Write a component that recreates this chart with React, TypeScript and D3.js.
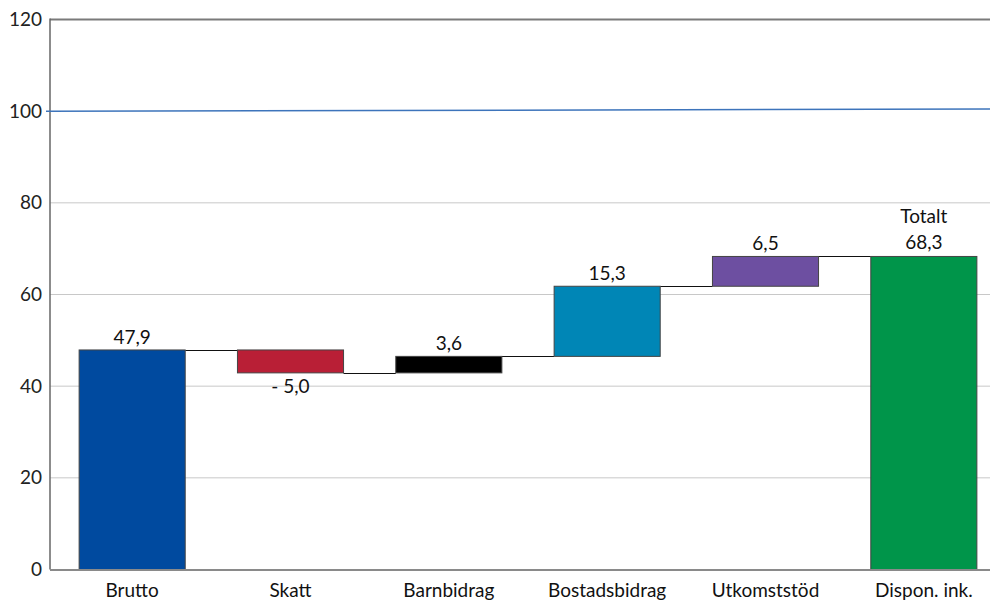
import React, { useEffect, useRef } from 'react';
import * as d3 from 'd3';

const categories = ['Brutto', 'Skatt', 'Barnbidrag', 'Bostadsbidrag', 'Utkomststöd', 'Dispon. ink.'];
const changes = [47.9, -5.0, 3.6, 15.3, 6.5];
const total = 68.3;
const barColors = ['#004a9f', '#b91f36', '#000000', '#0086b6', '#6d4fa1', '#00954a'];
const yTicks = [0, 20, 40, 60, 80, 100, 120];
// reference line at ~100 (drawn slightly rising in the original)
const refLine = [100, 100.45];

const W = 990;
const H = 602;

const fmt = (v: number) => (v < 0 ? '- ' : '') + Math.abs(v).toFixed(1).replace('.', ',');

export default function App() {
  const ref = useRef<SVGSVGElement>(null);

  useEffect(() => {
    document.body.style.margin = '0';
    const svg = d3.select(ref.current);
    svg.selectAll('*').remove();

    const font = 'Lato, "Open Sans", sans-serif';
    const fs = 19;
    const left = 50;
    const x = d3.scaleBand().domain(categories).range([53, 1003]).paddingInner(0.33).paddingOuter(0.165);
    const y = d3.scaleLinear().domain([0, 120]).range([569.5, 19.5]);

    // build waterfall segments
    const segs: { cat: string; y0: number; y1: number; v: number }[] = [];
    let run = 0;
    changes.forEach((v, i) => {
      const start = i === 0 ? 0 : run;
      run = start + v;
      segs.push({ cat: categories[i], y0: Math.min(start, run), y1: Math.max(start, run), v });
    });
    segs.push({ cat: categories[5], y0: 0, y1: total, v: total });

    // gridlines
    svg.append('g')
      .selectAll('line')
      .data(yTicks.filter(t => t > 0 && t < 100))
      .join('line')
      .attr('x1', left).attr('x2', W)
      .attr('y1', d => y(d)).attr('y2', d => y(d))
      .attr('stroke', '#c8c8c8').attr('stroke-width', 1);

    // top border
    svg.append('line')
      .attr('x1', left).attr('x2', W).attr('y1', y(120)).attr('y2', y(120))
      .attr('stroke', '#7a7a7a').attr('stroke-width', 2);

    // left axis
    svg.append('line')
      .attr('x1', left).attr('x2', left).attr('y1', y(120) - 1).attr('y2', y(0))
      .attr('stroke', '#666').attr('stroke-width', 1.5);

    // y tick labels
    svg.append('g')
      .selectAll('text')
      .data(yTicks)
      .join('text')
      .attr('x', 42).attr('y', d => y(d))
      .attr('dy', '0.35em')
      .attr('text-anchor', 'end')
      .attr('font-family', font).attr('font-size', fs).attr('fill', '#222')
      .text(d => d);

    // connectors
    const conn: { x1: number; x2: number; v: number }[] = [];
    let level = 0;
    changes.forEach((v, i) => {
      level = i === 0 ? v : level + v;
      conn.push({ x1: x(categories[i])! + x.bandwidth(), x2: x(categories[i + 1])!, v: level });
    });
    svg.append('g')
      .selectAll('line')
      .data(conn)
      .join('line')
      .attr('x1', d => d.x1).attr('x2', d => d.x2)
      .attr('y1', d => Math.round(y(d.v)) + 0.5).attr('y2', d => Math.round(y(d.v)) + 0.5)
      .attr('stroke', '#111').attr('stroke-width', 1);

    // bars
    svg.append('g')
      .selectAll('rect')
      .data(segs)
      .join('rect')
      .attr('x', d => x(d.cat)!)
      .attr('width', x.bandwidth())
      .attr('y', d => y(d.y1))
      .attr('height', d => y(d.y0) - y(d.y1))
      .attr('fill', (d, i) => barColors[i])
      .attr('stroke', '#444').attr('stroke-width', 1);

    // bottom axis
    svg.append('line')
      .attr('x1', left).attr('x2', W).attr('y1', y(0) + 0.5).attr('y2', y(0) + 0.5)
      .attr('stroke', '#8a8a8a').attr('stroke-width', 2);

    // reference line at 100
    svg.append('line')
      .attr('x1', 46).attr('x2', W)
      .attr('y1', y(refLine[0])).attr('y2', y(refLine[1]))
      .attr('stroke', '#3d74bb').attr('stroke-width', 1.5);

    // value labels
    svg.append('g')
      .selectAll('text')
      .data(segs.slice(0, 5))
      .join('text')
      .attr('x', d => x(d.cat)! + x.bandwidth() / 2)
      .attr('y', d => (d.v < 0 ? y(d.y0) + 20 : y(d.y1) - 6))
      .attr('text-anchor', 'middle')
      .attr('font-family', font).attr('font-size', fs).attr('fill', '#111')
      .text(d => fmt(d.v));

    const last = segs[5];
    const cx = x(last.cat)! + x.bandwidth() / 2;
    svg.append('text')
      .attr('x', cx).attr('y', y(last.y1) - 33)
      .attr('text-anchor', 'middle')
      .attr('font-family', font).attr('font-size', fs).attr('fill', '#111')
      .text('Totalt');
    svg.append('text')
      .attr('x', cx).attr('y', y(last.y1) - 7)
      .attr('text-anchor', 'middle')
      .attr('font-family', font).attr('font-size', fs).attr('fill', '#111')
      .text(fmt(total));

    // category labels
    svg.append('g')
      .selectAll('text')
      .data(categories)
      .join('text')
      .attr('x', d => x(d)! + x.bandwidth() / 2)
      .attr('y', 597)
      .attr('text-anchor', 'middle')
      .attr('font-family', font).attr('font-size', fs).attr('fill', '#111')
      .text(d => d);
  }, []);

  return (
    <svg
      ref={ref}
      width={W}
      height={H}
      style={{ display: 'block', position: 'absolute', left: 0, top: 0, background: '#fff' }}
    />
  );
}
